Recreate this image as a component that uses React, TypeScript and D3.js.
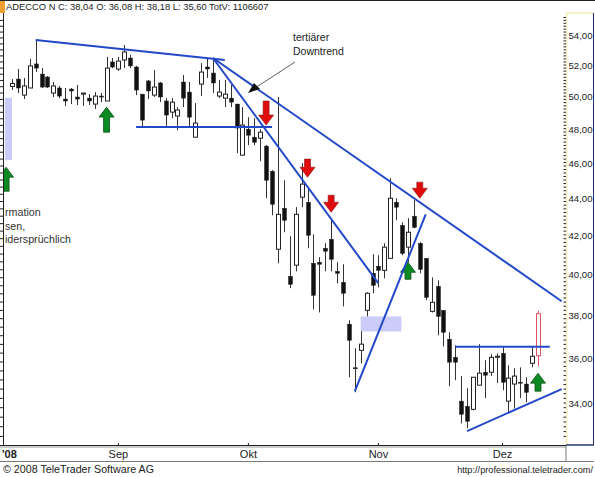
import * as d3 from 'd3';

const highs = [51.09,51.74,51.16,52.40,53.66,51.80,51.28,50.90,50.65,50.52,50.52,50.71,50.20,50.13,50.26,50.20,52.53,52.46,52.53,53.32,52.66,51.94,50.13,51.03,51.67,50.90,49.88,49.88,49.32,51.35,50.90,49.57,52.13,52.40,52.33,51.03,51.03,50.71,49.51,49.32,48.70,48.64,47.97,47.02,45.56,49.95,44.99,41.93,43.49,45.97,44.54,42.03,40.84,41.56,42.78,40.58,40.48,37.73,36.42,37.21,39.08,40.99,40.94,41.56,45.10,43.98,42.67,42.89,43.87,41.62,40.78,39.82,39.67,38.20,37.16,36.56,35.17,34.64,35.12,36.61,35.88,36.15,36.19,36.47,35.65,35.52,35.56,35.12,36.47,38.18];
const lows = [50.39,50.20,49.82,50.52,51.54,50.52,50.52,49.95,49.88,49.39,49.51,49.45,49.39,49.45,49.20,49.63,49.70,51.80,51.61,51.80,51.80,50.07,48.10,49.82,49.95,49.63,48.10,48.64,47.91,49.32,48.04,47.49,50.01,51.16,50.20,49.88,49.32,49.32,46.55,46.43,47.02,47.02,46.08,43.98,43.05,40.53,42.14,39.28,40.12,43.49,41.30,38.25,38.10,40.12,40.12,39.52,38.39,35.12,34.46,35.74,37.91,39.03,39.32,39.77,40.78,42.78,40.94,40.58,42.35,40.02,38.69,38.10,37.02,36.51,34.73,34.99,33.14,32.94,33.69,34.77,34.21,35.17,34.86,34.55,33.57,33.77,34.21,34.03,35.56,35.60];
// upper and lower edge of each candle body
const bodyTops = [50.81,51.09,50.65,51.94,52.07,51.41,51.22,50.65,50.52,49.82,50.45,49.95,50.20,49.88,50.01,50.01,51.80,52.20,52.26,52.86,52.46,51.87,50.13,50.97,50.58,50.84,49.70,49.63,49.14,50.90,50.26,48.34,51.54,51.87,51.48,50.26,50.13,49.88,49.51,48.22,47.97,47.49,47.79,46.96,45.50,43.10,43.43,39.87,43.10,44.77,43.76,40.53,40.58,41.30,41.77,40.12,39.57,37.54,35.54,36.61,39.03,40.02,40.38,41.36,43.98,43.76,42.51,42.14,43.00,41.56,40.78,38.59,39.37,38.20,36.84,36.01,34.08,33.86,35.12,35.30,35.34,36.01,36.06,36.19,35.08,35.17,34.90,34.82,36.06,38.04];
const bodyBottoms = [50.62,50.52,50.07,50.52,51.80,50.58,50.58,50.20,50.01,49.70,50.33,49.82,50.13,49.70,49.51,49.95,49.70,51.87,51.74,52.33,51.94,50.39,48.52,50.33,50.07,49.95,48.83,49.01,48.77,49.88,48.70,47.49,50.77,51.74,50.84,50.01,49.88,49.63,48.04,46.43,47.61,47.19,47.43,44.99,43.65,41.25,42.78,39.47,40.43,44.04,41.98,38.93,40.48,41.15,40.73,40.02,39.03,36.79,35.50,36.33,38.20,39.42,40.17,40.17,40.78,43.49,41.04,41.36,42.40,40.22,38.83,38.15,37.91,37.16,35.79,35.79,33.52,33.23,33.73,34.77,35.21,35.34,36.01,34.90,34.08,34.82,34.86,34.46,35.74,36.08];
const falling = [0,1,0,0,1,1,1,0,1,1,1,1,0,1,0,1,0,1,0,0,1,1,1,1,0,1,1,0,0,1,1,0,0,1,1,0,0,1,1,0,1,1,0,1,1,0,1,1,0,0,1,1,1,1,1,1,1,1,1,0,0,1,1,0,0,1,1,0,1,1,1,0,1,1,1,1,1,1,0,0,1,0,0,1,0,0,1,1,0,0];

const priceTicks = [54, 52, 50, 48, 46, 44, 42, 40, 38, 36, 34];
const minorTicks = d3.range(32.6, 55.4, 0.2);
const leftTicks = d3.range(32.6, 55.4, 0.4);
const months = [{ i: 18, label: 'Sep' }, { i: 40, label: 'Okt' }, { i: 62, label: 'Nov' }, { i: 83, label: 'Dez' }];

const trendLines = [
  { from: [4, 53.66], to: [36, 52.33] },
  { from: [21, 48.10], to: [44, 48.10] },
  { from: [34, 52.46], to: [62, 39.52] },
  { from: [34, 52.46], to: [93, 38.64] },
  { from: [58, 34.50], to: [70, 43.10] },
  { from: [75, 36.49], to: [91, 36.49] },
  { from: [77, 32.82], to: [93, 34.60] },
];
const greenArrows = [
  { i: -1, tip: 45.73, tail: 44.37 },
  { i: 16, tip: 49.32, tail: 47.79 },
  { i: 67, tip: 40.58, tail: 39.72 },
  { i: 89, tip: 35.30, tail: 34.51 },
];
const redArrows = [
  { i: 43, tip: 48.22, tail: 49.70 },
  { i: 50, tip: 45.16, tail: 46.20 },
  { i: 54, tip: 43.21, tail: 44.15 },
  { i: 69, tip: 43.98, tail: 44.88 },
];
const zones = [
  { i0: -1.2, i1: 0, top: 49.9, bottom: 46.14 },
  { i0: 59, i1: 65.9, top: 37.91, bottom: 37.2 },
];
const noteLines = ['rmation', 'sen,', 'idersprüchlich'];

const width = 595;
const height = 477;
const plotLeft = 4;
const plotRight = 566;
const plotTop = 13;
const plotBottom = 445;

const x = d3.scaleLinear().domain([0, 89]).range([12, 538]);
const y = d3.scaleLog().domain([54, 34]).range([35, 403]);
const fmt = (v: number) => d3.format('.2f')(v).replace('.', ',');

const font = '"Liberation Sans", Arial, sans-serif';
const blue = '#2348c8';

function arrowPath(i: number, tip: number, tail: number) {
  const cx = x(i);
  const yTip = y(tip);
  const yTail = y(tail);
  const dir = yTail > yTip ? 1 : -1;
  const neck = yTip + dir * 10;
  return `M${cx},${yTip} L${cx + 7.5},${neck} L${cx + 3},${neck} L${cx + 3},${yTail} L${cx - 3},${yTail} L${cx - 3},${neck} L${cx - 7.5},${neck} Z`;
}

export default function App() {
  return (
    <svg
      width={width}
      height={height}
      style={{ position: 'fixed', left: 0, top: 0, background: '#fff', fontFamily: font }}
    >
      <defs>
        <clipPath id="plot">
          <rect x={plotLeft} y={plotTop} width={plotRight - plotLeft} height={plotBottom - plotTop} />
        </clipPath>
      </defs>

      <rect x={0} y={0} width={width} height={1} fill="#222" />
      <rect x={0} y={1} width={5} height={12} fill="#f0a030" />

      {zones.map((z, k) => (
        <rect
          key={k}
          x={Math.max(x(z.i0), plotLeft)}
          y={y(z.top)}
          width={x(z.i1) - Math.max(x(z.i0), plotLeft)}
          height={y(z.bottom) - y(z.top)}
          fill="#ccccfa"
        />
      ))}

      <g clipPath="url(#plot)">
        {highs.map((h, i) => {
          const isLast = i === highs.length - 1;
          const stroke = isLast ? '#e05060' : '#222';
          const top = y(bodyTops[i]);
          const bottom = y(bodyBottoms[i]);
          return (
            <g key={i}>
              <line
                x1={Math.round(x(i)) + 0.5}
                x2={Math.round(x(i)) + 0.5}
                y1={y(h)}
                y2={y(lows[i])}
                stroke={isLast ? '#e05060' : '#333'}
                strokeWidth={1}
              />
              <rect
                x={Math.round(x(i)) - 1.5}
                y={top}
                width={4}
                height={Math.max(bottom - top, 1)}
                fill={falling[i] ? '#111' : '#fff'}
                stroke={stroke}
                strokeWidth={falling[i] ? 0.5 : 1}
              />
            </g>
          );
        })}

        {greenArrows.map((a, k) => (
          <path key={k} d={arrowPath(a.i, a.tip, a.tail)} fill="#0a8a20" stroke="#14501c" strokeWidth={0.8} />
        ))}
        {redArrows.map((a, k) => (
          <path key={k} d={arrowPath(a.i, a.tip, a.tail)} fill="#e00c0c" stroke="#8c1010" strokeWidth={0.6} />
        ))}

        {trendLines.map((l, k) => (
          <line
            key={k}
            x1={x(l.from[0])}
            y1={y(l.from[1])}
            x2={x(l.to[0])}
            y2={y(l.to[1])}
            stroke={blue}
            strokeWidth={2}
          />
        ))}

        {noteLines.map((t, k) => (
          <text key={t} x={5} y={216 + k * 13.5} fontSize={10.7} fill="#333">{t}</text>
        ))}
      </g>

      {/* annotation with leader */}
      <text x={293} y={41} fontSize={10.5} fill="#222">tertiärer</text>
      <text x={293} y={55} fontSize={10.5} fill="#222">Downtrend</text>
      <line x1={295} y1={62} x2={255} y2={88} stroke="#333" strokeWidth={0.8} />
      <path d="M248,93 L254,83 L260,89 Z" fill="#111" />

      <text x={6} y={10} fontSize={9.4} fill="#222">ADECCO N C: 38,04 O: 36,08 H: 38,18 L: 35,60  TotV: 1106607</text>

      {/* left ruler */}
      <line x1={3.5} x2={3.5} y1={plotTop} y2={plotBottom} stroke="#222" />
      {leftTicks.map(t => (
        <line key={t} x1={0} x2={3} y1={y(t)} y2={y(t)} stroke="#222" />
      ))}

      {/* right axis */}
      <line x1={plotRight} x2={593} y1={plotTop} y2={plotTop} stroke="#f4ecb0" strokeWidth={1.5} />
      <line x1={plotRight + 0.5} x2={plotRight + 0.5} y1={plotTop} y2={plotBottom} stroke="#f4ecb0" strokeWidth={1.5} />
      <line x1={593.5} x2={593.5} y1={plotTop} y2={plotBottom} stroke="#1c2c70" />
      <line x1={plotRight} x2={594} y1={plotBottom} y2={plotBottom} stroke="#1c2c70" strokeWidth={1.4} />
      {minorTicks.filter(t => y(t) > plotTop && y(t) < plotBottom).map(t => (
        <line key={t} x1={563.5} x2={566} y1={y(t)} y2={y(t)} stroke="#222" />
      ))}
      {priceTicks.map(t => (
        <text key={t} x={568.5} y={y(t) + 4} fontSize={9.6} fill="#222">{fmt(t)}</text>
      ))}

      {/* time axis */}
      <line x1={0} x2={plotRight} y1={plotBottom + 0.5} y2={plotBottom + 0.5} stroke="#222" />
      <line x1={0} x2={plotRight} y1={447} y2={447} stroke="#999" />
      <line x1={0} x2={594} y1={461.5} y2={461.5} stroke="#777" />
      <line x1={plotRight} x2={plotRight} y1={446} y2={461} stroke="#777" />
      {months.map(m => (
        <g key={m.label}>
          <line x1={x(m.i)} x2={x(m.i)} y1={443} y2={446} stroke="#222" />
          <text x={x(m.i)} y={458} fontSize={11} textAnchor="middle" fill="#222">{m.label}</text>
        </g>
      ))}
      <text x={2} y={458} fontSize={11} fontWeight="bold" fill="#222">'08</text>

      <text x={3} y={473} fontSize={10.7} fill="#222">© 2008 TeleTrader Software AG</text>
      <text x={593} y={473} fontSize={9.2} textAnchor="end" fill="#222">http://professional.teletrader.com/</text>
    </svg>
  );
}
